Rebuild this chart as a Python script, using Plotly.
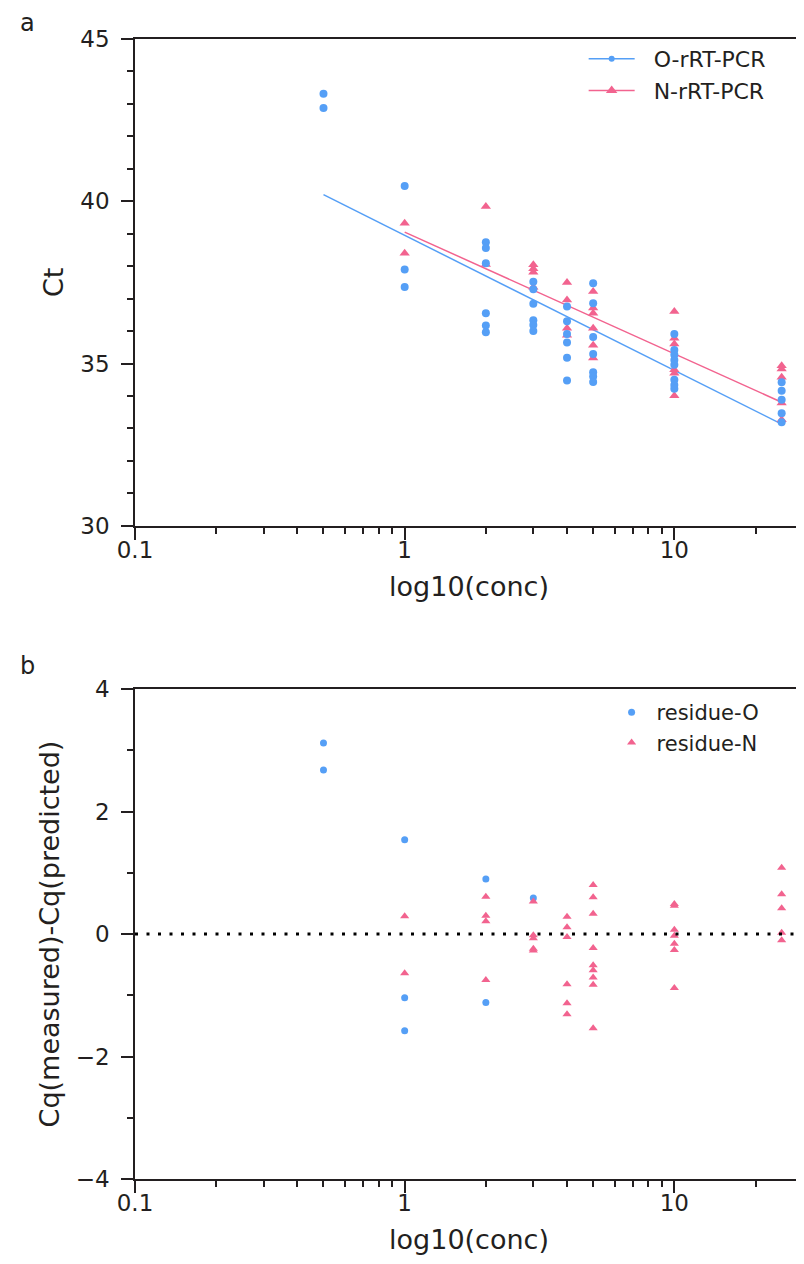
import numpy as np
import plotly.graph_objects as go

# ---------------- data ----------------
conc_O = [0.5]*2 + [1]*3 + [2]*6 + [3]*6 + [4]*6 + [5]*7 + [10]*8 + [25]*5
ct_O = [43.31, 42.87,
        40.47, 37.90, 37.36,
        38.74, 38.56, 38.09, 36.55, 36.17, 35.96,
        37.52, 37.29, 36.84, 36.33, 36.19, 36.00,
        36.76, 36.30, 35.91, 35.65, 35.18, 34.48,
        37.47, 36.86, 35.82, 35.29, 34.73, 34.60, 34.43,
        35.91, 35.42, 35.27, 35.11, 34.96, 34.50, 34.34, 34.22,
        34.42, 34.16, 33.88, 33.47, 33.19]

conc_N = [1]*2 + [2]*2 + [3]*4 + [4]*4 + [5]*6 + [10]*6 + [25]*5
ct_N = [39.32, 38.40,
        39.84, 38.05,
        38.04, 37.92, 37.81, 37.35,
        37.50, 36.96, 36.09, 35.87,
        37.22, 36.71, 36.55, 36.09, 35.56, 35.17,
        36.60, 35.78, 35.60, 34.81, 34.70, 34.01,
        34.93, 34.83, 34.58, 33.78, 33.27]

# fitted lines: Ct = intercept + slope * log10(conc)
fit_O_intercept, fit_O_slope = 38.95, -4.16
fit_N_intercept, fit_N_slope = 39.05, -3.75

res_conc_O = [0.5, 0.5, 1, 1, 1, 2, 2, 3]
res_O = [3.12, 2.68, 1.54, -1.04, -1.58, 0.90, -1.12, 0.59]

res_conc_N = [1]*2 + [2]*4 + [3]*5 + [4]*6 + [5]*9 + [10]*7 + [25]*5
res_N = [0.29, -0.64,
         0.61, 0.30, 0.21, -0.75,
         0.53, -0.02, -0.07, -0.24, -0.27,
         0.28, 0.11, -0.05, -0.82, -1.13, -1.31,
         0.80, 0.60, 0.33, -0.23, -0.51, -0.59, -0.71, -0.83, -1.54,
         0.49, 0.46, 0.07, -0.03, -0.16, -0.26, -0.88,
         1.08, 0.65, 0.42, 0.02, -0.10]

x_tickvals = [0.1, 1, 10]
x_ticktext = ["0.1", "1", "10"]

# ---------------- styling ----------------
BLUE = "#559FF6"
PINK = "#F2638F"
INK = "#231F20"
FONT = "DejaVu Sans, Arial, sans-serif"

def fit_line(conc, a, b):
    xs = np.array([min(conc), max(conc)], dtype=float)
    return xs, a + b * np.log10(xs)

fig = go.Figure()

xo, yo = fit_line(conc_O, fit_O_intercept, fit_O_slope)
xn, yn = fit_line(conc_N, fit_N_intercept, fit_N_slope)

fig.add_trace(go.Scatter(x=xo, y=yo, mode="lines", line=dict(color=BLUE, width=1.5),
                         showlegend=False, xaxis="x", yaxis="y", hoverinfo="skip"))
fig.add_trace(go.Scatter(x=xn, y=yn, mode="lines", line=dict(color=PINK, width=1.5),
                         showlegend=False, xaxis="x", yaxis="y", hoverinfo="skip"))
fig.add_trace(go.Scatter(x=conc_N, y=ct_N, mode="markers",
                         marker=dict(symbol="triangle-up", size=9, color=PINK),
                         showlegend=False, xaxis="x", yaxis="y"))
fig.add_trace(go.Scatter(x=conc_O, y=ct_O, mode="markers",
                         marker=dict(symbol="circle", size=8, color=BLUE),
                         showlegend=False, xaxis="x", yaxis="y"))
# legend entries for panel a
fig.add_trace(go.Scatter(x=[None], y=[None], mode="lines+markers", name="  O-rRT-PCR",
                         line=dict(color=BLUE, width=1.5),
                         marker=dict(symbol="circle", size=6, color=BLUE),
                         legend="legend", xaxis="x", yaxis="y"))
fig.add_trace(go.Scatter(x=[None], y=[None], mode="lines+markers", name="  N-rRT-PCR",
                         line=dict(color=PINK, width=1.5),
                         marker=dict(symbol="triangle-up", size=10, color=PINK),
                         legend="legend", xaxis="x", yaxis="y"))

# panel b
fig.add_trace(go.Scatter(x=res_conc_O, y=res_O, mode="markers", name="residue-O",
                         marker=dict(symbol="circle", size=7, color=BLUE),
                         legend="legend2", xaxis="x2", yaxis="y2"))
fig.add_trace(go.Scatter(x=res_conc_N, y=res_N, mode="markers", name="residue-N",
                         marker=dict(symbol="triangle-up", size=8, color=PINK),
                         legend="legend2", xaxis="x2", yaxis="y2"))

minor_x = [m * 10.0 ** e for e in (-1, 0, 1) for m in range(2, 10) if m * 10.0 ** e <= 30]

def xaxis_style(anchor):
    return dict(
        type="log", range=[-1, np.log10(30)], anchor=anchor,
        tickvals=x_tickvals, ticktext=x_ticktext,
        ticks="outside", ticklen=12, tickwidth=1.5, tickcolor=INK,
        showline=True, linecolor=INK, linewidth=1.5, mirror=True,
        showgrid=False, zeroline=False,
        tickfont=dict(family=FONT, size=23, color=INK),
        ticklabelstandoff=-9,
        minor=dict(tickvals=minor_x, ticks="outside", ticklen=6, tickwidth=1.5,
                   tickcolor=INK, showgrid=False),
        title=dict(text="log10(conc)", font=dict(family=FONT, size=27, color=INK), standoff=15),
    )

def yaxis_style(anchor, domain, rng, dtick):
    return dict(
        domain=domain, range=rng, anchor=anchor, dtick=dtick,
        ticks="outside", ticklen=12, tickwidth=1.5, tickcolor=INK,
        showline=True, linecolor=INK, linewidth=1.5, mirror=True,
        showgrid=False, zeroline=False,
        tickfont=dict(family=FONT, size=23, color=INK),
        ticklabelstandoff=7,
        minor=dict(dtick=1, ticks="outside", ticklen=6, tickwidth=1.5,
                   tickcolor=INK, showgrid=False),
    )

ya = yaxis_style("x", [0.573, 1.0], [30, 45], 5)
ya["title"] = dict(text="Ct", font=dict(family=FONT, size=27, color=INK), standoff=9)
yb = yaxis_style("x2", [0.0, 0.4298], [-4, 4], 2)
yb["title"] = dict(text="Cq(measured)-Cq(predicted)", font=dict(family=FONT, size=27, color=INK),
                   standoff=8)

fig.update_layout(
    width=804, height=1264,
    margin=dict(l=127, r=7, t=31, b=93),
    paper_bgcolor="white", plot_bgcolor="white",
    font=dict(family=FONT, color=INK),
    xaxis=xaxis_style("y"),
    yaxis=ya,
    xaxis2=xaxis_style("y2"),
    yaxis2=yb,
    legend=dict(x=(577 - 127) / 670, y=(1171 - 30) / 1140, xanchor="left", yanchor="top",
                bgcolor="rgba(0,0,0,0)", font=dict(family=FONT, size=22, color=INK),
                itemwidth=46),
    legend2=dict(x=(600 - 127) / 670, y=(1171 - 684) / 1140, xanchor="left", yanchor="top",
                 bgcolor="rgba(0,0,0,0)", font=dict(family=FONT, size=21, color=INK),
                 itemwidth=40),
    shapes=[dict(type="line", xref="x2 domain", x0=0, x1=1, yref="y2", y0=0, y1=0,
                 line=dict(color="black", width=3, dash="3px,8.5px"))],
    annotations=[
        dict(text="a", xref="paper", yref="paper", x=(19.5 - 127) / 670, y=(1171 - 15) / 1140,
             xanchor="center", yanchor="middle", showarrow=False,
             font=dict(family=FONT, size=24, color=INK)),
        dict(text="b", xref="paper", yref="paper", x=(19.5 - 127) / 670, y=(1171 - 658) / 1140,
             xanchor="center", yanchor="middle", showarrow=False,
             font=dict(family=FONT, size=24, color=INK)),
    ],
)

fig.write_html("out.html")
